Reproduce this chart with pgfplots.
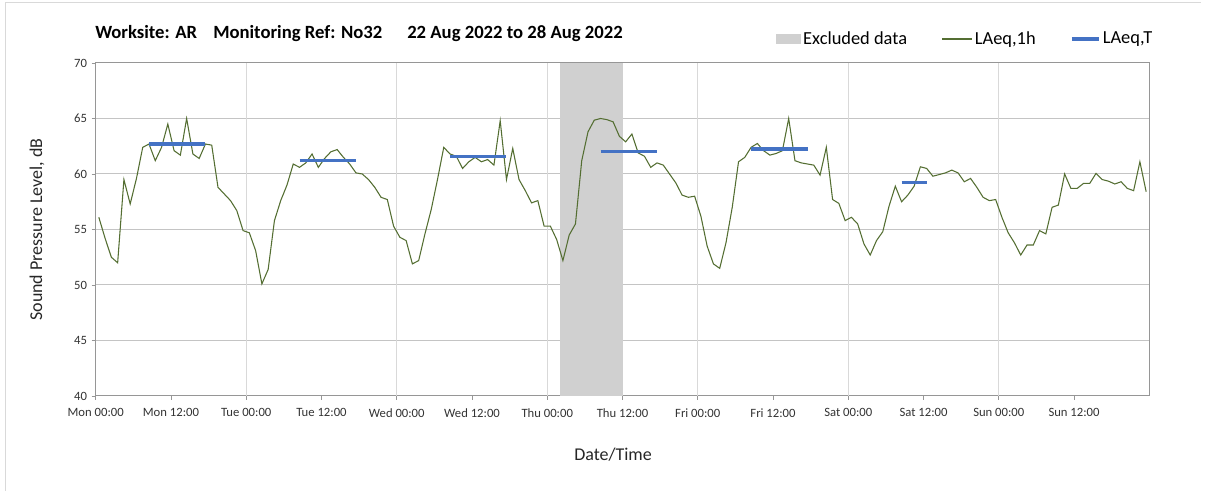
\documentclass[border=0pt]{standalone}
\usepackage{pgfplots}
\pgfplotsset{compat=1.18}
\usepackage{pgfplotstable}
\usepackage{fontspec}
\setmainfont{Carlito}
\definecolor{lgreen}{RGB}{84,110,50}
\definecolor{lblue}{RGB}{68,114,196}
\definecolor{band}{RGB}{208,208,208}
\definecolor{hgrid}{RGB}{196,196,196}
\definecolor{vgrid}{RGB}{217,217,217}
\definecolor{axgray}{RGB}{150,150,150}

\pgfplotstableread{
h v
0.5 56.1
1.5 54.2
2.5 52.5
3.5 52.0
4.5 59.5
5.5 57.3
6.5 59.6
7.5 62.4
8.5 62.7
9.5 61.2
10.5 62.4
11.5 64.5
12.5 62.1
13.5 61.7
14.5 65.0
15.5 61.8
16.5 61.4
17.5 62.7
18.5 62.6
19.5 58.8
20.5 58.2
21.5 57.6
22.5 56.7
23.5 54.9
24.5 54.7
25.5 53.1
26.5 50.1
27.5 51.4
28.5 55.8
29.5 57.6
30.5 59.0
31.5 60.9
32.5 60.6
33.5 61.0
34.5 61.8
35.5 60.6
36.5 61.4
37.5 62.0
38.5 62.2
39.5 61.5
40.5 60.9
41.5 60.1
42.5 60.0
43.5 59.5
44.5 58.8
45.5 57.9
46.5 57.7
47.5 55.3
48.5 54.3
49.5 54.0
50.5 51.9
51.5 52.2
52.5 54.6
53.5 56.8
54.5 59.5
55.5 62.4
56.5 61.8
57.5 61.6
58.5 60.5
59.5 61.1
60.5 61.5
61.5 61.1
62.5 61.3
63.5 60.8
64.5 64.8
65.5 59.5
66.5 62.3
67.5 59.5
68.5 58.5
69.5 57.4
70.5 57.6
71.5 55.3
72.5 55.3
73.5 54.1
74.5 52.2
75.5 54.5
76.5 55.5
77.5 61.2
78.5 63.8
79.5 64.85
80.5 65.0
81.5 64.9
82.5 64.7
83.5 63.4
84.5 62.9
85.5 63.6
86.5 61.9
87.5 61.6
88.5 60.6
89.5 61.0
90.5 60.8
91.5 60.0
92.5 59.2
93.5 58.1
94.5 57.9
95.5 58.0
96.5 56.2
97.5 53.5
98.5 51.9
99.5 51.5
100.5 53.8
101.5 57.0
102.5 61.1
103.5 61.5
104.5 62.4
105.5 62.75
106.5 62.1
107.5 61.7
108.5 61.85
109.5 62.1
110.5 65.0
111.5 61.2
112.5 61.0
113.5 60.9
114.5 60.8
115.5 59.9
116.5 62.4
117.5 57.7
118.5 57.35
119.5 55.8
120.5 56.1
121.5 55.5
122.5 53.7
123.5 52.7
124.5 54.0
125.5 54.8
126.5 57.1
127.5 58.9
128.5 57.5
129.5 58.1
130.5 58.9
131.5 60.65
132.5 60.5
133.5 59.8
134.5 59.95
135.5 60.1
136.5 60.35
137.5 60.1
138.5 59.3
139.5 59.6
140.5 58.8
141.5 57.9
142.5 57.6
143.5 57.7
144.5 56.1
145.5 54.7
146.5 53.8
147.5 52.7
148.5 53.6
149.5 53.6
150.5 54.9
151.5 54.6
152.5 57.0
153.5 57.2
154.5 60.0
155.5 58.7
156.5 58.7
157.5 59.15
158.5 59.15
159.5 60.05
160.5 59.5
161.5 59.35
162.5 59.1
163.5 59.3
164.5 58.7
165.5 58.5
166.5 61.1
167.5 58.4
}\laeq

\begin{document}
\begin{tikzpicture}[x=0.75pt,y=0.75pt]
\useasboundingbox (0,0) rectangle (1208,491);
\draw[color=black!15, line width=0.75pt] (5,0) -- (5,488) -- (1201,488);
\node[anchor=base west, font=\fontsize{14}{15}\selectfont\bfseries, inner sep=0pt] at (95,452) {Worksite: AR};
\node[anchor=base west, font=\fontsize{14}{15}\selectfont\bfseries, inner sep=0pt] at (213,452) {Monitoring Ref: No32};
\node[anchor=base west, font=\fontsize{14}{15}\selectfont\bfseries, inner sep=0pt] at (407,452) {22 Aug 2022 to 28 Aug 2022};
\begin{axis}[
  at={(71.775pt,71.25pt)}, anchor=south west, scale only axis,
  width=790.2pt, height=249.75pt,
  xmin=0, xmax=168, ymin=40, ymax=70,
  xtick={0,12,...,156},
  xticklabels={Mon 00:00, Mon 12:00, Tue 00:00, Tue 12:00, Wed 00:00, Wed 12:00, Thu 00:00, Thu 12:00, Fri 00:00, Fri 12:00, Sat 00:00, Sat 12:00, Sun 00:00, Sun 12:00},
  ytick={40,45,...,70},
  axis line style={axgray, line width=0.75pt},
  tick style={axgray, line width=0.6pt},
  tick align=outside, tick pos=left, major tick length=3pt,
  ymajorgrids, major grid style={hgrid, line width=0.75pt},
  extra x ticks={24,48,...,144}, extra x tick labels={},
  extra x tick style={grid=major, major grid style={vgrid, line width=0.75pt}, major tick length=0pt},
  xticklabel style={font=\fontsize{9.5}{11}\selectfont, text=black!80, yshift=-3pt},
  yticklabel style={font=\fontsize{9.5}{11}\selectfont, text=black!80},
  /pgf/number format/assume math mode=true,
  xlabel={Date/Time}, ylabel={Sound Pressure Level, dB},
  label style={font=\fontsize{13.5}{15}\selectfont, text=black!85},
  xlabel style={at={(axis description cs:0.491,-0.177)}, anchor=center},
  ylabel style={at={(axis description cs:-0.0557,0.5)}, anchor=center},
  legend columns=3,
  legend style={at={(0.645,1.072)}, anchor=west, draw=none, fill=none,
    font=\fontsize{13.8}{15}\selectfont, inner sep=0pt,
    nodes={inner xsep=2pt, inner ysep=1pt},
    /tikz/every even column/.append style={column sep=24pt}},
  legend cell align=left,
]
\addplot[fill=band, draw=none, legend image code/.code={\fill[band] (0pt,-3.75pt) rectangle (18.75pt,3.75pt);}]
  coordinates {(74,40) (74,70) (84,70) (84,40)} -- cycle;
\addlegendentry{Excluded data}
\addplot[lgreen, line width=0.8pt, mark=none, legend image code/.code={\draw[lgreen, line width=0.8pt] (0pt,0pt) -- (22pt,0pt);}]
  table[x=h, y=v] {\laeq};
\addlegendentry{LAeq,1h}
\addplot[lblue, line width=2.4pt, mark=none, legend image code/.code={\draw[lblue, line width=2.4pt] (0pt,0pt) -- (20pt,0pt);}]
  coordinates {(8.5,62.7) (17.5,62.7)};
\addlegendentry{LAeq,T}
\addplot[lblue, line width=2.4pt, mark=none, forget plot] coordinates {(32.5,61.25) (41.5,61.25)};
\addplot[lblue, line width=2.4pt, mark=none, forget plot] coordinates {(56.5,61.6) (65.5,61.6)};
\addplot[lblue, line width=2.4pt, mark=none, forget plot] coordinates {(80.5,62.05) (89.5,62.05)};
\addplot[lblue, line width=2.4pt, mark=none, forget plot] coordinates {(104.5,62.25) (113.5,62.25)};
\addplot[lblue, line width=2.4pt, mark=none, forget plot] coordinates {(128.5,59.25) (132.5,59.25)};
\end{axis}
\end{tikzpicture}
\end{document}
